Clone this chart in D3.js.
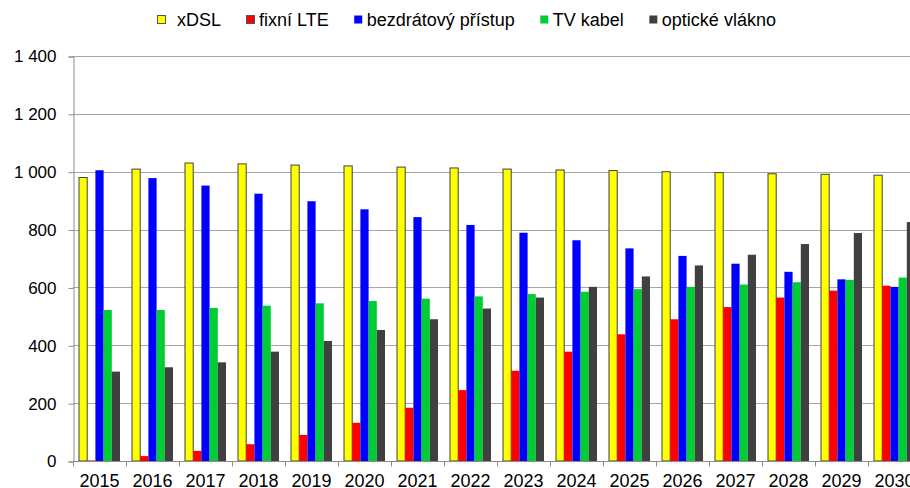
<!DOCTYPE html>
<html lang="cs">
<head>
<meta charset="UTF-8">
<title>Přípojky podle technologie</title>
<style>
  body { margin: 0; background: #fff; }
  text { font-family: "Liberation Sans", Arial, sans-serif; fill: #000; }
</style>
</head>
<body>
<div id="chart"></div>
<script src="https://d3js.org/d3.v7.min.js"></script>
<script>
// data
var years = ["2015","2016","2017","2018","2019","2020","2021","2022","2023","2024","2025","2026","2027","2028","2029","2030"];
var seriesNames = ["xDSL", "fixní LTE", "bezdrátový přístup", "TV kabel", "optické vlákno"];
var xdsl    = [980, 1009, 1030, 1027, 1023, 1020, 1016, 1013, 1009, 1006, 1004, 1000, 997, 993, 991, 988];
var fixniLte = [2, 17, 35, 58, 90, 132, 184, 245, 312, 378, 438, 490, 532, 565, 589, 606];
var bezdrat = [1005, 978, 952, 924, 898, 870, 843, 816, 789, 763, 735, 709, 682, 654, 628, 602];
var tvKabel = [522, 522, 529, 537, 545, 553, 561, 569, 577, 585, 594, 602, 610, 618, 626, 634];
var opticke = [309, 324, 341, 378, 415, 453, 490, 527, 565, 602, 638, 676, 713, 750, 788, 826];
var yTicks = [0, 200, 400, 600, 800, 1000, 1200, 1400];

var values = [xdsl, fixniLte, bezdrat, tvKabel, opticke];
var colors = ["#ffff00", "#ff0000", "#0000ff", "#00cc33", "#404040"];
var strokes = ["#404040", null, null, null, null];

var width = 910, height = 488;
var plotLeft = 73, plotRight = 921, plotTop = 56, plotBottom = 461;

var svg = d3.select("#chart").append("svg")
    .attr("width", width)
    .attr("height", height);

var y = d3.scaleLinear().domain([0, 1400]).range([plotBottom, plotTop]);
var x0 = d3.scaleBand().domain(years).range([plotLeft, plotRight]).padding(0);
var x1 = d3.scaleBand().domain(d3.range(seriesNames.length)).range([6, 47]).padding(0);

// gridlines
svg.append("g")
    .selectAll("line")
    .data(yTicks.slice(1))
    .enter().append("line")
    .attr("x1", plotLeft).attr("x2", plotRight)
    .attr("y1", function(d) { return Math.round(y(d)) + 0.5; })
    .attr("y2", function(d) { return Math.round(y(d)) + 0.5; })
    .attr("stroke", "#a6a6a6")
    .attr("stroke-width", 1);

// y axis
var yAxis = svg.append("g")
    .attr("transform", "translate(" + (plotLeft + 0.5) + ",0.5)")
    .call(d3.axisLeft(y).tickValues(yTicks).tickSize(5).tickPadding(12)
        .tickFormat(function(d) { return d3.format(",")(d).replace(/,/g, " "); }));
yAxis.select(".domain").attr("stroke", "#8c8c8c");
yAxis.selectAll(".tick line").attr("stroke", "#8c8c8c");
yAxis.selectAll("text").attr("font-size", 17).attr("font-family", "Liberation Sans, Arial, sans-serif").attr("fill", "#000");

// bars
var groups = svg.append("g").selectAll("g")
    .data(years)
    .enter().append("g")
    .attr("transform", function(d) { return "translate(" + x0(d) + ",0)"; });

groups.selectAll("rect")
    .data(function(d, i) { return values.map(function(v, s) { return {s: s, v: v[i]}; }); })
    .enter().append("rect")
    .attr("x", function(d) { return x1(d.s); })
    .attr("width", x1.bandwidth())
    .attr("y", function(d) { return y(d.v); })
    .attr("height", function(d) { return y(0) - y(d.v); })
    .attr("fill", function(d) { return colors[d.s]; })
    .attr("stroke", function(d) { return strokes[d.s] || "none"; })
    .attr("stroke-width", 1);

// x axis
var xAxis = svg.append("g")
    .attr("transform", "translate(0," + (Math.round(plotBottom) + 0.5) + ")");
xAxis.append("line")
    .attr("x1", plotLeft).attr("x2", plotRight)
    .attr("stroke", "#8c8c8c");
xAxis.selectAll("line.tk")
    .data(years)
    .enter().append("line")
    .attr("class", "tk")
    .attr("x1", function(d) { return Math.round(x0(d)) + 0.5; })
    .attr("x2", function(d) { return Math.round(x0(d)) + 0.5; })
    .attr("y1", 0).attr("y2", 5)
    .attr("stroke", "#8c8c8c");
xAxis.selectAll("text")
    .data(years)
    .enter().append("text")
    .attr("x", function(d) { return x0(d) + x0.bandwidth() / 2; })
    .attr("y", 25)
    .attr("text-anchor", "middle")
    .attr("font-size", 18)
    .text(function(d) { return d; });

// legend
var legend = svg.append("g").attr("transform", "translate(157,0)");
var lx = 0;
seriesNames.forEach(function(name, i) {
    legend.append("rect")
        .attr("x", lx + 0.5).attr("y", 15.5)
        .attr("width", 8).attr("height", 8)
        .attr("fill", colors[i])
        .attr("stroke", i < 2 ? "#555" : "none");
    var t = legend.append("text")
        .attr("x", lx + (i == 0 ? 20 : 13))
        .attr("y", 26)
        .attr("font-size", 18)
        .text(name);
    lx += (i == 0 ? 20 : 13) + t.node().getComputedTextLength() + 25;
});
</script>
</body>
</html>
